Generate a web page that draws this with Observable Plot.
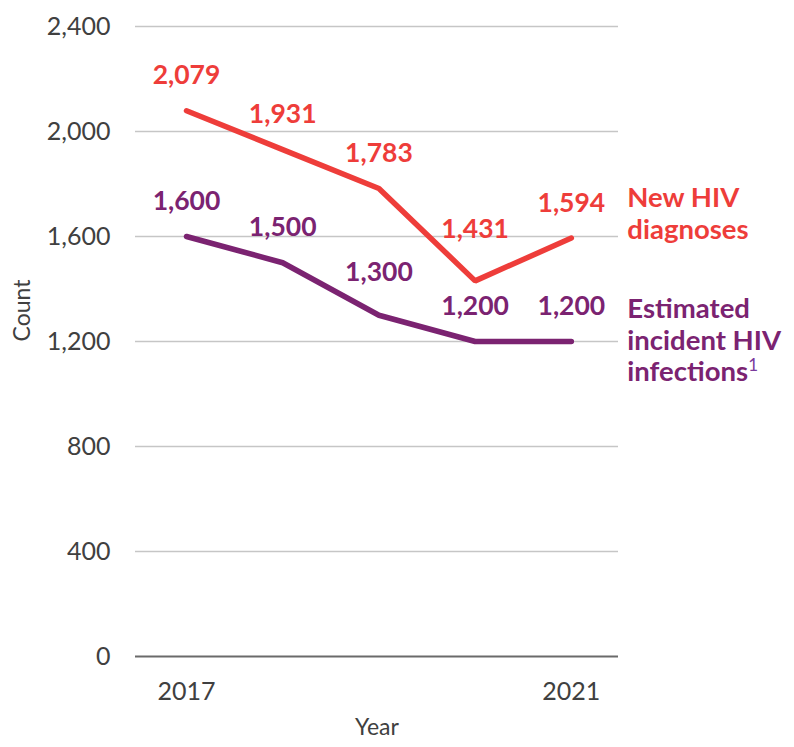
<!DOCTYPE html>
<html>
<head>
<meta charset="utf-8">
<script src="https://cdn.jsdelivr.net/npm/d3@7"></script>
<script src="https://cdn.jsdelivr.net/npm/@observablehq/plot@0.6"></script>
<style>
  html, body { margin: 0; padding: 0; background: #fff; }
  #chart svg { display: block; }
</style>
</head>
<body>
<div id="chart"></div>
<script>
const years = [2017, 2018, 2019, 2020, 2021];
const newDiagnoses = [2079, 1931, 1783, 1431, 1594];
const incidentInfections = [1600, 1500, 1300, 1200, 1200];
const yTicks = [0, 400, 800, 1200, 1600, 2000, 2400];
const xTicks = [2017, 2021];
const seriesNames = ["New HIV\ndiagnoses", "Estimated\nincident HIV\ninfections"];

const RED = "#ee3d3a";
const PURPLE = "#7b2371";

const diag = years.map((year, i) => ({year, value: newDiagnoses[i]}));
const inc = years.map((year, i) => ({year, value: incidentInfections[i]}));

// label lift (px) where the default would collide with the line
const liftFor = (series, i) => {
  if (series === "diag" && i === 3) return -51;
  if (series === "inc" && i === 2) return -43;
  return -35;
};

const labelMarks = [];
diag.forEach((d, i) => labelMarks.push(Plot.text([d], {
  x: "year", y: "value", text: d => d3.format(",")(d.value),
  fill: RED, fontWeight: "bold", fontSize: 26.5, dy: liftFor("diag", i)
})));
inc.forEach((d, i) => labelMarks.push(Plot.text([d], {
  x: "year", y: "value", text: d => d3.format(",")(d.value),
  fill: PURPLE, fontWeight: "bold", fontSize: 26.5, dy: liftFor("inc", i)
})));

const chart = Plot.plot({
  width: 794,
  height: 747,
  marginLeft: 135,
  marginRight: 176,
  marginTop: 26,
  marginBottom: 91,
  style: {fontFamily: "Lato, 'Open Sans', sans-serif", fontSize: "25px", color: "#404040", background: "#fff"},
  x: {domain: [2016.47, 2021.49]},
  y: {domain: [0, 2400]},
  marks: [
    Plot.gridY(yTicks.filter(t => t > 0), {stroke: "#c6c6c6", strokeOpacity: 1, strokeWidth: 1.6}),
    Plot.ruleY([0], {stroke: "#6a6a6a", strokeWidth: 2}),
    Plot.axisY({ticks: yTicks, tickSize: 0, tickPadding: 25, tickFormat: d3.format(","), fontSize: 25, label: null}),
    Plot.axisX({ticks: xTicks, tickSize: 0, tickPadding: 26, tickFormat: d => String(d), fontSize: 25, label: null}),
    Plot.text(["Count"], {frameAnchor: "left", dx: -113, rotate: -90, fontSize: 23, fill: "#404040"}),
    Plot.text(["Year"], {frameAnchor: "bottom", dy: 78, fontSize: 23, fill: "#404040"}),
    Plot.line(diag, {x: "year", y: "value", stroke: RED, strokeWidth: 5.5, strokeLinecap: "round", strokeLinejoin: "miter"}),
    Plot.line(inc, {x: "year", y: "value", stroke: PURPLE, strokeWidth: 5.5, strokeLinecap: "round", strokeLinejoin: "miter"}),
    ...labelMarks,
    Plot.text([diag[diag.length - 1]], {x: "year", y: "value", text: () => seriesNames[0], textAnchor: "start", lineAnchor: "middle", lineHeight: 1.17, dx: 56, dy: -25, fill: RED, fontWeight: "bold", fontSize: 27.5}),
    Plot.text([inc[inc.length - 1]], {x: "year", y: "value", text: () => seriesNames[1], textAnchor: "start", lineAnchor: "middle", lineHeight: 1.14, dx: 56, dy: -2, fill: PURPLE, fontWeight: "bold", fontSize: 27.5})
  ]
});

document.getElementById("chart").appendChild(chart);

// superscript footnote marker after "infections"
const t = d3.select(chart).selectAll("text").filter(function() { return this.textContent.includes("infections"); });
t.each(function() {
  const spans = d3.select(this).selectAll("tspan");
  const last = spans.size() ? d3.select(spans.nodes()[spans.size() - 1]) : d3.select(this);
  last.append("tspan").attr("dy", "-10").attr("font-size", 17).attr("font-weight", "normal").attr("fill", "#7a3a9c").text("1");
});
</script>
</body>
</html>
